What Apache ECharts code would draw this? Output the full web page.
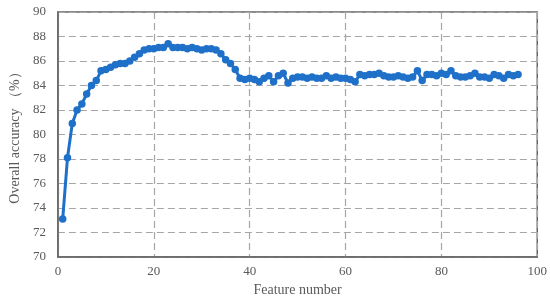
<!DOCTYPE html>
<html>
<head>
<meta charset="utf-8">
<script src="https://cdn.jsdelivr.net/npm/echarts@6/dist/echarts.min.js"></script>
<style>
  html, body { margin: 0; padding: 0; background: #fff; }
  #main { width: 550px; height: 303px; }
</style>
</head>
<body>
<div id="main"></div>
<script>
// feature count on x, accuracy (%) on y
var featureNum = [];
for (var i = 1; i <= 96; i++) featureNum.push(i);

var accuracy = [
  73.1, 78.1, 80.9, 82.0, 82.5, 83.3, 84.0, 84.4, 85.2, 85.3,
  85.5, 85.7, 85.8, 85.8, 86.0, 86.3, 86.6, 86.9, 87.0, 87.0,
  87.1, 87.1, 87.4, 87.1, 87.1, 87.1, 87.0, 87.1, 87.0, 86.9,
  87.0, 87.0, 86.9, 86.6, 86.1, 85.8, 85.3, 84.6, 84.5, 84.6,
  84.5, 84.3, 84.6, 84.8, 84.3, 84.8, 85.0, 84.2, 84.6, 84.7,
  84.7, 84.6, 84.7, 84.6, 84.6, 84.8, 84.6, 84.7, 84.6, 84.6,
  84.5, 84.3, 84.9, 84.8, 84.9, 84.9, 85.0, 84.8, 84.7, 84.7,
  84.8, 84.7, 84.6, 84.7, 85.2, 84.4, 84.9, 84.9, 84.8, 85.0,
  84.9, 85.2, 84.8, 84.7, 84.7, 84.8, 85.0, 84.7, 84.7, 84.6,
  84.9, 84.8, 84.6, 84.9, 84.8, 84.9
];

var xTicks = [0, 20, 40, 60, 80, 100];
var yTicks = [70, 72, 74, 76, 78, 80, 82, 84, 86, 88, 90];

var points = featureNum.map(function (n, k) { return [n, accuracy[k]]; });

var font = '"Liberation Serif", "Times New Roman", serif';
var txtColor = '#595959';
var dashLine = { show: true, lineStyle: { color: '#a6a6a6', width: 1.2, type: [7, 4] } };

var myChart = echarts.init(document.getElementById('main'));
var option = {
  animation: false,
  grid: {
    left: 52, right: 12, top: 12, bottom: 46,
    show: true, borderColor: '#666', borderWidth: 1.5,
    containLabel: false
  },
  xAxis: {
    type: 'value',
    min: xTicks[0], max: xTicks[xTicks.length - 1], interval: 20,
    name: 'Feature number',
    nameLocation: 'middle', nameGap: 22,
    nameTextStyle: { fontFamily: font, fontSize: 14, color: txtColor },
    axisLine: { show: true, lineStyle: { color: '#666', width: 1.5 } },
    axisTick: { show: false },
    axisLabel: { fontFamily: font, fontSize: 13, color: txtColor, margin: 8 },
    splitLine: dashLine
  },
  yAxis: {
    type: 'value',
    min: yTicks[0], max: yTicks[yTicks.length - 1], interval: 2,
    name: 'Overall accuracy （%）',
    nameLocation: 'middle', nameGap: 32, nameRotate: 90,
    nameTextStyle: { fontFamily: font, fontSize: 14, color: txtColor },
    axisLine: { show: true, lineStyle: { color: '#666', width: 1.5 } },
    axisTick: { show: false },
    axisLabel: { fontFamily: font, fontSize: 13, color: txtColor, margin: 12 },
    splitLine: dashLine
  },
  series: [
    {
      type: 'line',
      data: points,
      symbol: 'circle',
      symbolSize: 7.5,
      lineStyle: { color: '#1f70c8', width: 3 },
      itemStyle: { color: '#1f70c8' }
    }
  ]
};
myChart.setOption(option);
</script>
</body>
</html>
